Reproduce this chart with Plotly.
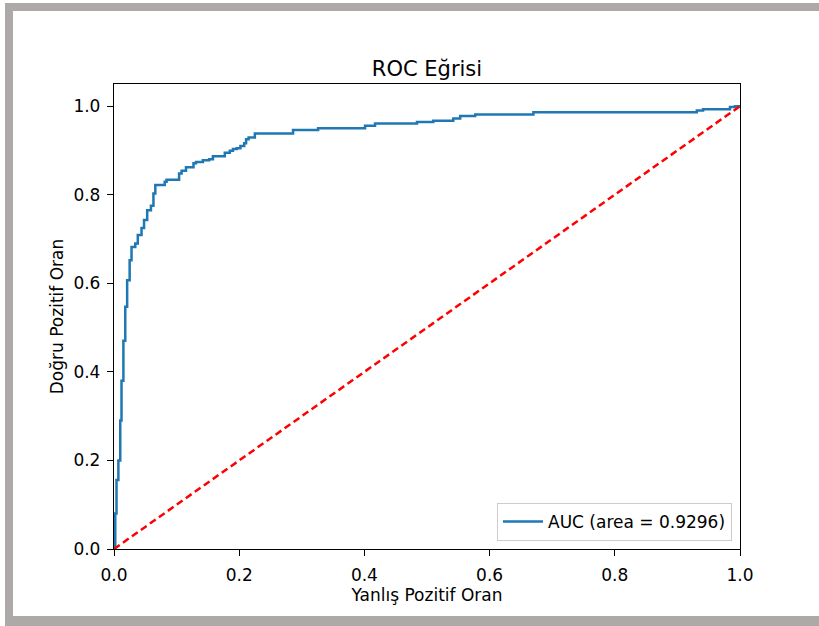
import plotly.graph_objects as go

# ROC curve points (top of each step riser)
fpr = [0.0, 0.002, 0.004, 0.007, 0.010, 0.012, 0.015, 0.018, 0.021, 0.025, 0.028,
       0.034, 0.038, 0.044, 0.048, 0.053, 0.059, 0.063, 0.066, 0.081, 0.084,
       0.104, 0.108, 0.115, 0.127, 0.131, 0.142, 0.152, 0.158, 0.177, 0.185,
       0.190, 0.196, 0.202, 0.208, 0.211, 0.215, 0.225, 0.286, 0.326, 0.401,
       0.417, 0.484, 0.510, 0.542, 0.553, 0.577, 0.670, 0.931, 0.941, 0.984,
       0.992, 1.0]
tpr = [0.0, 0.08, 0.156, 0.20, 0.29, 0.38, 0.47, 0.547, 0.607, 0.652, 0.682,
       0.69, 0.709, 0.725, 0.743, 0.765, 0.775, 0.803, 0.822, 0.829, 0.834,
       0.848, 0.854, 0.862, 0.871, 0.874, 0.878, 0.880, 0.887, 0.895, 0.899,
       0.903, 0.905, 0.910, 0.916, 0.925, 0.929, 0.938, 0.946, 0.950, 0.9555,
       0.961, 0.964, 0.967, 0.972, 0.978, 0.981, 0.986, 0.990, 0.993, 0.998,
       1.0, 1.0]
diag_x = [0.0, 1.0]
diag_y = [0.0, 1.0]
auc_label = "AUC (area = 0.9296)"
title_text = "ROC Eğrisi"
x_title = "Yanlış Pozitif Oran"
y_title = "Doğru Pozitif Oran"
tick_vals = [0.0, 0.2, 0.4, 0.6, 0.8, 1.0]
tick_text = ["0.0", "0.2", "0.4", "0.6", "0.8", "1.0"]

W, H = 819, 626
L, R, T, B = 114, 740, 84, 549  # plot area pixel box

def px_x(x):
    return (x - L) / (R - L)

def px_y(y):
    return (B - y) / (B - T)

FONT = "DejaVu Sans"

fig = go.Figure()
fig.add_trace(go.Scatter(
    x=fpr, y=tpr, mode="lines", line_shape="hv",
    line=dict(color="#1f77b4", width=2.5), name=auc_label, showlegend=True,
))
fig.add_trace(go.Scatter(
    x=diag_x, y=diag_y, mode="lines",
    line=dict(color="red", width=2.5, dash="7px,4px"), showlegend=False,
))

frame_col = "#aca9a8"
shapes = [
    dict(type="rect", xref="paper", yref="paper", x0=px_x(5), x1=px_x(819),
         y0=px_y(11), y1=px_y(3), fillcolor=frame_col, line_width=0, layer="below"),
    dict(type="rect", xref="paper", yref="paper", x0=px_x(5), x1=px_x(13),
         y0=px_y(626), y1=px_y(3), fillcolor=frame_col, line_width=0, layer="below"),
    dict(type="rect", xref="paper", yref="paper", x0=px_x(5), x1=px_x(819),
         y0=px_y(626), y1=px_y(616), fillcolor=frame_col, line_width=0, layer="below"),
]

axis_common = dict(
    showline=True, linecolor="black", linewidth=1.3, mirror=True,
    ticks="outside", ticklen=6, tickwidth=1.3, tickcolor="black",
    showgrid=False, zeroline=False,
    tickfont=dict(family=FONT, size=17, color="black"),
    tickvals=tick_vals, ticktext=tick_text,
)

fig.update_layout(
    width=W, height=H,
    margin=dict(l=L, r=W - R, t=T, b=H - B, autoexpand=False),
    paper_bgcolor="white", plot_bgcolor="white",
    title=dict(text=title_text, x=427 / W, xanchor="center",
               y=1 - 76 / H, yanchor="bottom", yref="container",
               font=dict(family=FONT, size=21, color="black")),
    xaxis=dict(range=[0, 1], title=dict(text=x_title, standoff=2,
               font=dict(family=FONT, size=17, color="black")),
               ticklabelstandoff=4, **axis_common),
    yaxis=dict(range=[0, 1.05], title=dict(text=y_title, standoff=5,
               font=dict(family=FONT, size=17, color="black")),
               ticklabelstandoff=3, **axis_common),
    legend=dict(x=px_x(732), xanchor="right", y=px_y(541), yanchor="bottom",
                bgcolor="white", bordercolor="#cccccc", borderwidth=1,
                itemwidth=40,
                font=dict(family=FONT, size=17, color="black")),
    shapes=shapes,
)

fig.write_html("out.html", config={"displayModeBar": False},
               post_script="document.body.style.margin='0';document.body.style.overflow='hidden';")
